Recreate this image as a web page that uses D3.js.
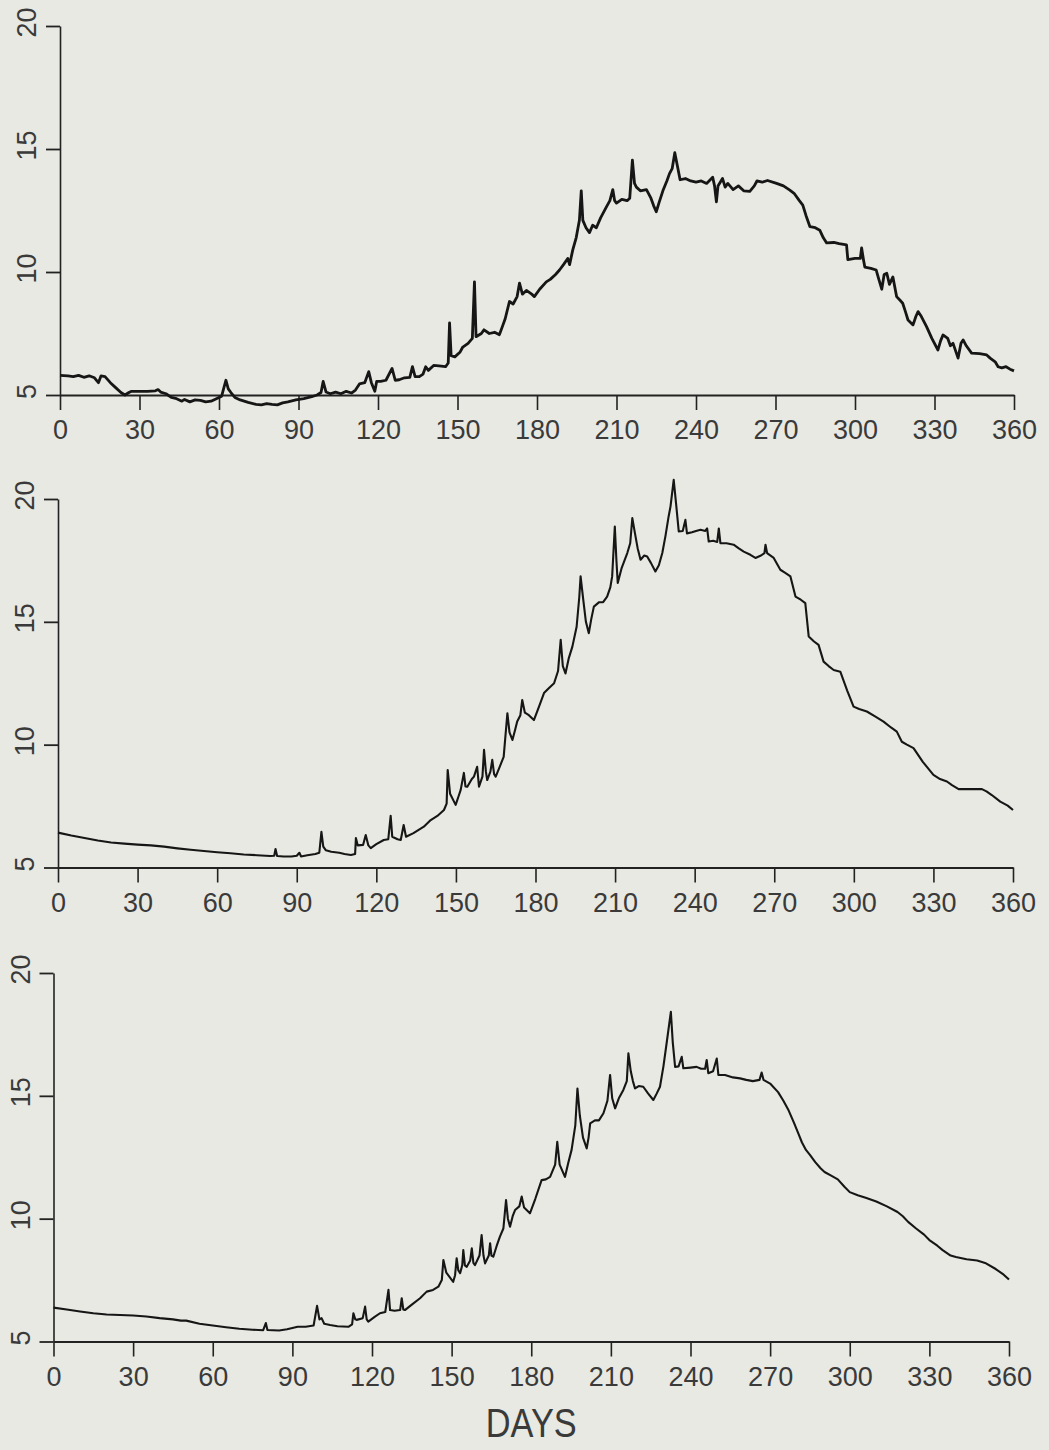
<!DOCTYPE html>
<html>
<head>
<meta charset="utf-8">
<script src="https://cdn.jsdelivr.net/npm/d3@7"></script>
<style>
  html, body { margin: 0; padding: 0; background: #e8e9e2; }
  svg { display: block; }
  text { font-family: "Liberation Sans", "DejaVu Sans", sans-serif; fill: #3a3a3a; }
</style>
</head>
<body>
<svg id="chart" width="1049" height="1450"></svg>
<script>
// ---- DATA ----
const xTicks = [0, 30, 60, 90, 120, 150, 180, 210, 240, 270, 300, 330, 360];
const yTicks = [5, 10, 15, 20];
const xLabel = "DAYS";

// panel 1 (top) : [day, value]
const series1 = [
[0,5.8],[3,5.78],[5,5.75],[7,5.8],[9,5.72],[11,5.78],[13,5.7],[14.5,5.5],[15.5,5.78],[17,5.75],[19,5.5],[21,5.3],[23,5.1],[24.5,5.0],[26,5.1],[27,5.15],[30,5.15],[33,5.15],[36,5.17],[37,5.22],[38,5.12],[40,5.05],[42,4.9],[44,4.85],[46,4.75],[47,4.82],[49,4.72],[51,4.8],[53,4.78],[55,4.72],[57,4.75],[59,4.85],[61,4.95],[62.6,5.6],[63.5,5.25],[64.5,5.1],[66,4.9],[68,4.8],[71,4.7],[74,4.62],[76,4.6],[78,4.65],[80,4.62],[82,4.6],[84,4.68],[86,4.72],[89,4.8],[92,4.85],[95,4.93],[97,5.0],[98.5,5.1],[99.3,5.55],[100.4,5.12],[102,5.05],[104,5.12],[106,5.05],[108,5.15],[110,5.08],[111.5,5.2],[113,5.45],[115,5.5],[116.5,5.95],[117.5,5.5],[118.8,5.15],[119.5,5.55],[121,5.55],[123,5.6],[125.3,6.08],[126.5,5.6],[128,5.62],[130,5.7],[132,5.72],[133,6.15],[134,5.75],[135.6,5.75],[137,5.85],[138,6.15],[139,6.0],[141,6.2],[143,6.18],[145.5,6.15],[146.5,6.3],[147,7.93],[147.6,6.6],[149,6.55],[151,6.75],[152,6.95],[154,7.1],[155.6,7.3],[156.4,9.6],[157,7.37],[159,7.5],[160,7.65],[162,7.5],[164,7.55],[165.8,7.45],[167,7.8],[168,8.1],[169.6,8.8],[171,8.7],[172.5,9.0],[173.4,9.55],[174.5,9.1],[176,9.25],[178,9.1],[179,9.0],[181,9.3],[183.5,9.6],[185,9.7],[187,9.9],[188.5,10.08],[190,10.3],[191.6,10.55],[192.3,10.3],[193.5,10.9],[194.8,11.4],[196,12.1],[196.7,13.3],[197.3,12.1],[198.5,11.8],[199.8,11.6],[201,11.9],[202.4,11.8],[204,12.2],[206.2,12.65],[207.5,12.9],[208.6,13.35],[209.3,12.9],[210,12.8],[212,12.95],[214,12.9],[215,13.0],[216,14.55],[216.8,13.6],[217.5,13.45],[219,13.3],[221.3,13.35],[223,13.0],[224,12.7],[225,12.45],[226,12.8],[227.5,13.3],[229,13.7],[230,14.0],[231,14.2],[232,14.85],[233,14.3],[234,13.75],[236,13.8],[238,13.7],[240,13.65],[242,13.7],[244,13.6],[246.3,13.85],[247,13.5],[247.7,12.85],[248.3,13.5],[250,13.8],[251,13.45],[252,13.6],[254,13.35],[256,13.5],[258,13.3],[260.3,13.28],[262,13.5],[263,13.7],[265,13.65],[267,13.72],[270.4,13.6],[273,13.5],[275.4,13.33],[277,13.2],[279,12.9],[280.3,12.72],[281.5,12.3],[283,11.84],[285,11.8],[286.7,11.7],[288,11.4],[289.3,11.18],[292,11.2],[294,11.15],[296.8,11.1],[297.3,10.5],[300,10.55],[302,10.55],[302.5,10.98],[303.2,10.5],[303.7,10.2],[306,10.15],[308,10.08],[309,9.7],[310.1,9.3],[311,9.9],[312,9.95],[313,9.5],[314.3,9.8],[315.7,9.0],[317,8.85],[318,8.73],[319,8.4],[320,8.05],[321.9,7.85],[323,8.2],[323.8,8.39],[325,8.2],[327,7.78],[329,7.3],[331.3,6.83],[332.3,7.2],[333.2,7.44],[335,7.3],[336,7.0],[337,7.1],[338.9,6.5],[340,7.1],[340.8,7.24],[342,7.0],[344,6.7],[347,6.68],[349.7,6.63],[351,6.5],[352.9,6.35],[354,6.15],[355.4,6.1],[357,6.15],[358.5,6.05],[360,5.98]
];

// panel 2 (middle)
const series2 = [
[0,6.42],[5,6.3],[10,6.2],[15,6.1],[20,6.02],[25,5.97],[30,5.93],[35,5.9],[40,5.85],[45,5.78],[50,5.72],[55,5.67],[60,5.62],[65,5.58],[70,5.53],[75,5.5],[80,5.47],[81.5,5.48],[82,5.75],[82.6,5.47],[85,5.45],[88,5.45],[90,5.48],[91,5.6],[91.6,5.45],[94,5.5],[97,5.55],[98.5,5.6],[99.3,6.45],[100,5.85],[101,5.7],[103,5.64],[106,5.6],[108,5.55],[110.4,5.51],[112,5.55],[112.3,6.2],[113,5.9],[115,5.92],[116,6.32],[117,5.9],[117.9,5.79],[120,5.95],[122.8,6.12],[124.5,6.15],[125.4,7.1],[126,6.25],[128,6.15],[129.2,6.12],[130.3,6.73],[131.2,6.25],[134,6.4],[137.9,6.66],[140.5,6.93],[143,7.1],[145.5,7.34],[146.5,7.6],[146.9,8.97],[147.8,8.0],[149.9,7.55],[151,7.9],[151.8,8.16],[153,8.85],[153.6,8.3],[154.3,8.29],[156,8.6],[156.8,8.7],[158,9.1],[158.7,8.29],[160,8.7],[160.6,9.79],[161.3,8.9],[161.8,8.56],[163,8.9],[163.7,9.38],[164.4,8.8],[165,8.7],[166.5,9.1],[168,9.5],[169.4,11.28],[170.2,10.5],[171.3,10.19],[172.3,10.6],[173.1,10.94],[174.3,11.2],[175,11.82],[176,11.3],[177.5,11.2],[179.4,11.0],[181.5,11.6],[183.2,12.1],[185,12.3],[187,12.5],[188.5,13.0],[189.5,14.27],[190.3,13.2],[191.3,12.9],[192.5,13.5],[193.9,13.99],[195.5,14.8],[196.5,16.0],[197,16.85],[198,15.9],[199,15.0],[200.1,14.54],[201,15.1],[202,15.62],[204,15.8],[205.5,15.8],[207,16.03],[208.2,16.4],[208.9,16.85],[209.9,18.88],[210.5,17.5],[211,16.58],[212.5,17.2],[214.6,17.8],[215.7,18.2],[216.5,19.22],[217.5,18.6],[218.5,18.0],[219.6,17.53],[221,17.7],[222.1,17.66],[223.5,17.4],[225.2,17.05],[226.5,17.3],[227.8,17.8],[229,18.5],[230.2,19.3],[230.9,19.7],[232.1,20.78],[233,19.8],[234,18.68],[235.5,18.7],[236.5,19.15],[237.1,18.6],[239,18.65],[240.5,18.7],[242.2,18.75],[244,18.7],[244.7,18.8],[245.3,18.27],[247,18.3],[248.5,18.25],[249.1,18.8],[249.7,18.2],[252,18.2],[254.7,18.14],[256.5,18.0],[258.5,17.86],[261,17.73],[262.9,17.6],[265,17.7],[266.3,17.8],[266.7,18.14],[267.3,17.8],[269.8,17.6],[272.3,17.12],[274,17.0],[276.1,16.85],[278,16.03],[280,15.9],[281.7,15.76],[283,14.4],[285,14.2],[286.7,14.06],[288.6,13.38],[290.5,13.2],[292.4,13.04],[294.9,12.97],[297.5,12.2],[299.9,11.55],[302,11.45],[304.9,11.35],[308,11.15],[311.2,10.94],[314,10.7],[316.2,10.53],[318.1,10.12],[320,10.0],[322.5,9.86],[326,9.3],[330,8.77],[332.5,8.6],[335.1,8.5],[337,8.35],[339.5,8.19],[344,8.19],[348.3,8.19],[350,8.1],[352,7.95],[355.2,7.68],[358,7.52],[360,7.34]
];

// panel 3 (bottom)
const series3 = [
[0,6.38],[5,6.3],[10,6.22],[15,6.15],[20,6.1],[25,6.08],[30,6.06],[35,6.02],[40,5.95],[45,5.9],[48,5.85],[50,5.85],[55,5.72],[60,5.65],[65,5.58],[70,5.52],[75,5.48],[79,5.46],[80,5.75],[80.6,5.47],[85,5.45],[88,5.5],[90,5.55],[92,5.6],[95,5.6],[98,5.65],[99.3,6.45],[100.2,5.9],[101,5.95],[102,5.72],[104.2,5.67],[107,5.62],[111.1,5.6],[112.5,5.7],[113,6.15],[113.7,5.9],[114.2,5.88],[116.5,5.95],[117.4,6.42],[118,5.9],[118.6,5.81],[121,6.0],[123,6.15],[125,6.2],[126.2,7.1],[126.8,6.28],[128.5,6.25],[130.6,6.28],[131.2,6.76],[131.8,6.3],[132.4,6.28],[135,6.5],[138.1,6.76],[140.6,7.03],[143,7.1],[145,7.23],[146.3,7.5],[146.9,8.32],[148,7.8],[150.6,7.43],[151.3,7.7],[151.9,8.39],[152.5,7.9],[153.2,7.78],[154,8.1],[154.4,8.72],[155,8.1],[155.7,8.04],[157,8.3],[157.6,8.79],[158.2,8.2],[158.8,8.11],[160.5,8.5],[161.3,9.33],[162,8.5],[162.6,8.18],[164,8.5],[164.5,9.0],[165,8.5],[165.7,8.45],[167,8.9],[168.2,9.27],[169.5,9.6],[170.5,10.76],[171.2,10.0],[172,9.67],[173,10.1],[173.9,10.35],[175.5,10.5],[176.4,10.9],[177.3,10.45],[179.5,10.22],[181.5,10.8],[183.9,11.57],[185.5,11.6],[187.1,11.7],[189,12.2],[189.8,13.13],[190.7,12.2],[192.7,11.7],[194,12.3],[195.2,12.8],[196.6,13.8],[197.4,15.3],[198.3,14.2],[199.5,13.3],[200.9,12.86],[201.6,13.3],[202.2,13.88],[204,14.0],[205.5,14.0],[207.2,14.29],[208.7,14.8],[209.7,15.85],[210.5,14.9],[211.6,14.49],[213,14.9],[214.7,15.24],[216,15.6],[216.6,16.73],[217.5,16.0],[218.3,15.6],[219.1,15.3],[220.5,15.4],[222.2,15.37],[224,15.1],[226,14.83],[227.3,15.1],[228.5,15.37],[229.8,16.2],[231,17.14],[232.6,18.42],[233.3,17.2],[234.2,16.18],[235.5,16.2],[236.7,16.59],[237.3,16.12],[240,16.15],[242.3,16.18],[244,16.1],[245.5,16.1],[246.1,16.46],[246.7,15.92],[248.5,16.0],[249.9,16.52],[250.5,15.85],[253,15.85],[256,15.75],[258.7,15.71],[261,15.65],[263.5,15.6],[266,15.65],[266.8,15.95],[267.5,15.65],[270,15.5],[273,15.15],[275,14.8],[277,14.4],[279,13.9],[280.5,13.5],[282,13.1],[283.5,12.8],[285,12.6],[287,12.3],[289,12.05],[290.5,11.9],[293,11.75],[295.5,11.6],[298,11.3],[300,11.08],[303,10.95],[306,10.85],[310,10.7],[314,10.5],[318,10.27],[320,10.1],[322,9.87],[325,9.6],[328,9.35],[330,9.13],[333,8.9],[335,8.72],[338,8.5],[340,8.44],[344,8.35],[348,8.3],[351,8.2],[355,7.95],[358,7.72],[360,7.52]
];

// ---- LAYOUT ----
const panels = [
  { data: series1, x0: 60,   x1: 1014, yBot: 395,    yTop: 26,  lw: 2.8 },
  { data: series2, x0: 58,   x1: 1013, yBot: 867.5,  yTop: 499, lw: 2.1 },
  { data: series3, x0: 53.5, x1: 1009, yBot: 1341.5, yTop: 973, lw: 2.1 }
];

const svg = d3.select("#chart");
const ink = "#222";
const fontFam = "'Liberation Sans', 'DejaVu Sans', sans-serif";

panels.forEach((p, i) => {
  const x = d3.scaleLinear().domain([0, 360]).range([p.x0, p.x1]);
  const y = d3.scaleLinear().domain([5, 20]).range([p.yBot, p.yTop]);
  const g = svg.append("g");

  // x axis
  const gx = g.append("g")
    .attr("transform", `translate(0,${p.yBot})`)
    .call(d3.axisBottom(x).tickValues(xTicks).tickSize(15).tickSizeOuter(0).tickPadding(10).tickFormat(d3.format("d")));
  gx.select(".domain").attr("stroke", ink).attr("stroke-width", 2.2);
  gx.selectAll(".tick line").attr("stroke", ink).attr("stroke-width", 1.6);
  gx.selectAll(".tick text").attr("font-size", 27).attr("fill", "#3a3a3a")
    .style("font-family", fontFam);

  // y axis
  const gy = g.append("g")
    .attr("transform", `translate(${p.x0},0)`)
    .call(d3.axisLeft(y).tickValues(yTicks).tickSize(14).tickSizeOuter(0).tickFormat(d3.format("d")));
  gy.select(".domain").attr("stroke", ink).attr("stroke-width", 1.6);
  gy.selectAll(".tick line").attr("stroke", ink).attr("stroke-width", 1.8);
  gy.selectAll(".tick text")
    .attr("x", null).attr("dy", null)
    .attr("text-anchor", "middle")
    .attr("transform", "translate(-24,-4) rotate(-90)")
    .attr("font-size", 27).attr("fill", "#3a3a3a")
    .style("font-family", fontFam);

  // data line
  const line = d3.line().x(d => x(d[0])).y(d => y(d[1]));
  g.append("path")
    .datum(p.data)
    .attr("fill", "none")
    .attr("stroke", "#161616")
    .attr("stroke-width", p.lw)
    .attr("stroke-linejoin", "round")
    .attr("d", line);

  if (i === 2) {
    g.append("text")
      .attr("x", x(180)).attr("y", 1437)
      .attr("text-anchor", "middle")
      .attr("font-size", 40)
      .attr("textLength", 91)
      .attr("lengthAdjust", "spacingAndGlyphs")
      .attr("fill", "#3a3a3a")
      .text(xLabel);
  }
});
</script>
</body>
</html>
